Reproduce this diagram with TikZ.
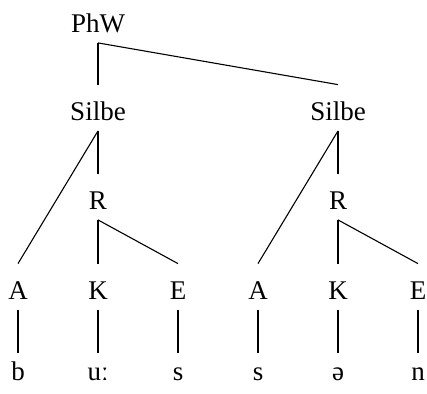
\documentclass[tikz,border=0pt]{standalone}
\usepackage{fontspec}
\setmainfont{Liberation Serif}
\begin{document}
\begin{tikzpicture}[x=0.5pt,y=-0.5pt,
  lab/.style={anchor=base,inner sep=0pt,font=\fontsize{13.5}{16}\selectfont,text height=17.5pt,text depth=5.25pt},
  seg/.style={lab,text height=13.5pt},
  br/.style={line width=0.55pt}]
\useasboundingbox (0,0) rectangle (427,393);
\node[lab] (phw) at (98,32) {PhW};
\node[lab] (s1) at (98,120) {Silbe};
\node[lab] (s2) at (338,120) {Silbe};
\node[lab] (r1) at (98,209) {R};
\node[lab] (r2) at (338,209) {R};
\node[lab] (a1) at (18,299) {A};
\node[lab] (k1) at (98,299) {K};
\node[lab] (e1) at (178,299) {E};
\node[lab] (a2) at (258,299) {A};
\node[lab] (k2) at (338,299) {K};
\node[lab] (e2) at (418,299) {E};
\node[seg] (b) at (18,380) {b};
\node[seg] (u) at (98,380) {uː};
\node[seg] (s) at (178,380) {s};
\node[seg] (ss) at (258,380) {s};
\node[seg] (schwa) at (338,380) {ə};
\node[seg] (n) at (418,380) {n};
\draw[br] (phw.south) -- (s1.north);
\draw[br] (phw.south) -- (s2.north);
\draw[br] (s1.south) -- (a1.north);
\draw[br] (s1.south) -- (r1.north);
\draw[br] (s2.south) -- (a2.north);
\draw[br] (s2.south) -- (r2.north);
\draw[br] (r1.south) -- (k1.north);
\draw[br] (r1.south) -- (e1.north);
\draw[br] (r2.south) -- (k2.north);
\draw[br] (r2.south) -- (e2.north);
\draw[br] (a1.south) -- (b.north);
\draw[br] (k1.south) -- (u.north);
\draw[br] (e1.south) -- (s.north);
\draw[br] (a2.south) -- (ss.north);
\draw[br] (k2.south) -- (schwa.north);
\draw[br] (e2.south) -- (n.north);
\end{tikzpicture}
\end{document}
